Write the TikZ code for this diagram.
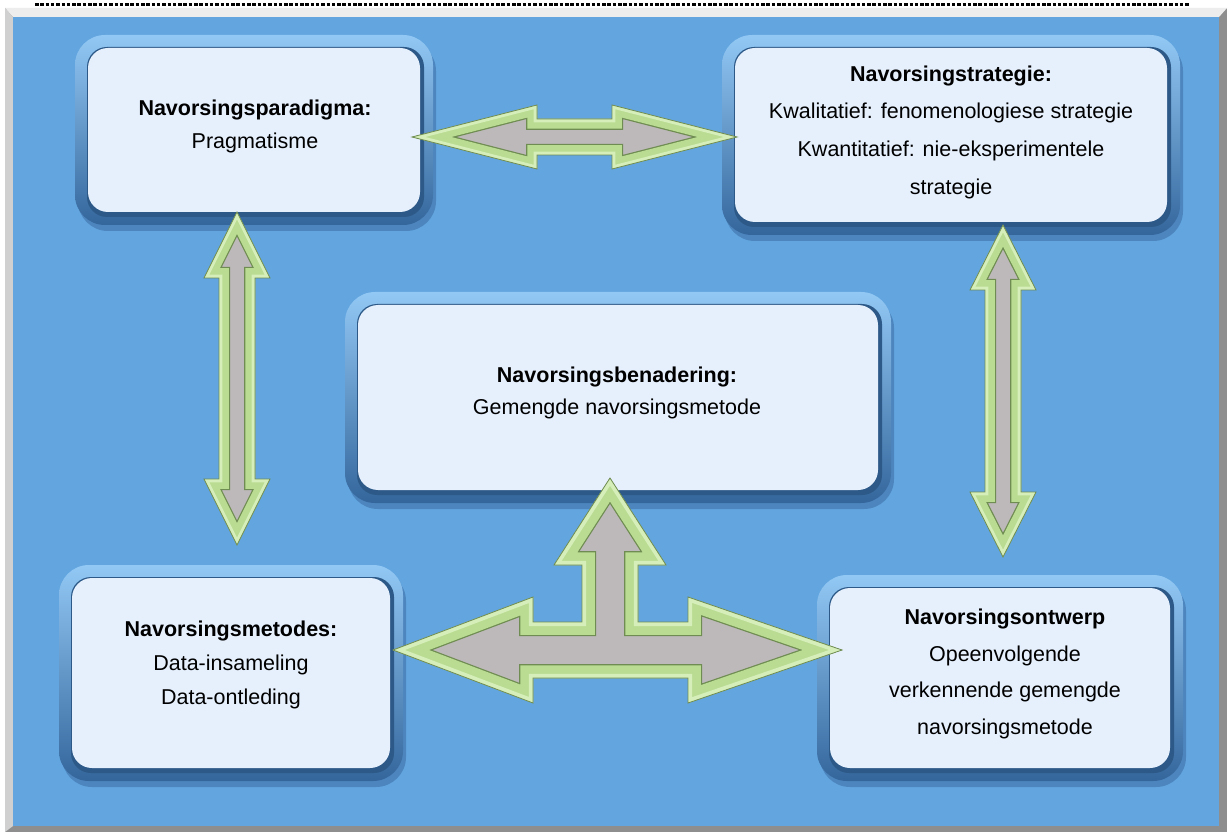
\documentclass[tikz,border=0pt]{standalone}
\usepackage{fontspec}
\setmainfont{Liberation Sans}
\usetikzlibrary{calc}

\definecolor{bgblue}{HTML}{62A5DF}
\definecolor{panelfill}{HTML}{E6F0FD}
\definecolor{rimtop}{HTML}{92C8F4}
\definecolor{rimmid}{HTML}{5E9EDB}
\definecolor{rimbot}{HTML}{34669C}
\definecolor{rimdark}{HTML}{2C5987}
\definecolor{panelshadow}{HTML}{3F70A8}
\definecolor{arrgray}{HTML}{BDB8B9}
\definecolor{arrlight}{HTML}{B9DC92}
\definecolor{arrhigh}{HTML}{D6EFBA}
\definecolor{arrdark}{HTML}{6F8C52}
\definecolor{framelight}{HTML}{EDEDED}
\definecolor{frameside}{HTML}{D0D0D0}
\definecolor{framedark}{HTML}{8E8E8E}

\tikzset{
  txt/.style={font=\fontsize{21.5}{#1}\selectfont, align=center, inner sep=0pt, text=black},
}

% rounded panel: inner rectangle x1,y1,x2,y2 with a bevelled blue rim
\newcommand\panel[4]{%
  \fill[panelshadow, opacity=0.6, rounded corners=30] (#1-13+3,#2-13+6) rectangle (#3+13+3,#4+13+6);
  \shade[rounded corners=30, top color=rimtop, middle color=rimmid, bottom color=rimbot]
    (#1-13,#2-13) rectangle (#3+13,#4+13);
  \fill[rimdark, rounded corners=20] (#1-1,#2-1) rectangle (#3+4,#4+5);
  \fill[panelfill, rounded corners=20] (#1,#2) rectangle (#3,#4);
}

% bevelled block arrow from a closed outline, band width #2
\newcommand\bevelshape[2]{%
  \begin{scope}
    \clip #1;
    \fill[arrgray] #1;
    \draw[arrdark, line width=2*#2, line join=miter] #1;
    \draw[arrlight, line width=2*#2-2.5, line join=miter] #1;
    \draw[arrhigh, line width=#2*0.6, line join=miter] #1;
  \end{scope}
  \draw[arrdark, line width=0.8, line join=miter] #1;
}

% double block arrow between two tips: head length, head half width, shaft half width
\newcommand\dblarrow[5]{%
  \bevelshape{(#1) -- ($(#1)!#3!(#2)!#4!90:(#2)$) -- ($(#1)!#3!(#2)!#5!90:(#2)$)
    -- ($(#2)!#3!(#1)!#5!-90:(#1)$) -- ($(#2)!#3!(#1)!#4!-90:(#1)$) -- (#2)
    -- ($(#2)!#3!(#1)!#4!90:(#1)$) -- ($(#2)!#3!(#1)!#5!90:(#1)$)
    -- ($(#1)!#3!(#2)!#5!-90:(#2)$) -- ($(#1)!#3!(#2)!#4!-90:(#2)$) -- cycle}{11}%
}

\begin{document}
\begin{tikzpicture}[x=1pt, y=-1pt]
  \useasboundingbox (0,0) rectangle (1229,834);
  \fill[white] (0,0) rectangle (1229,834);

  % dashed rule above the frame
  \draw[black, line width=3, dash pattern=on 3.5 off 1.8] (35,5) -- (1190,5);

  % bevelled frame
  \fill[framedark] (5,8) rectangle (1227,832);
  \fill[framelight] (5,8) -- (1227,8) -- (1219,17) -- (13,17) -- cycle;
  \fill[frameside] (5,8) -- (13,17) -- (13,826) -- (5,832) -- cycle;
  \fill[bgblue] (13,17) rectangle (1219,826);

  % panels
  \panel{88}{48}{420}{212}
  \panel{735}{48}{1167}{222}
  \panel{358}{305}{878}{490}
  \panel{72}{578}{390}{768}
  \panel{830}{588}{1170}{768}

  % panel texts
  \node[txt=33] (paradigm) at (255,126) {\textbf{Navorsingsparadigma:}\\Pragmatisme};
  \node[txt=37.7] (strategy) at (951,132) {\textbf{Navorsingstrategie:}\\Kwalitatief: fenomenologiese strategie\\Kwantitatief: nie-eksperimentele\\strategie};
  \node[txt=32] (approach) at (617,393) {\textbf{Navorsingsbenadering:}\\Gemengde navorsingsmetode};
  \node[txt=34] (methods) at (231,665) {\textbf{Navorsingsmetodes:}\\Data-insameling\\Data-ontleding};
  \node[txt=36.7] (design) at (1005,674) {\textbf{Navorsingsontwerp}\\Opeenvolgende\\verkennende gemengde\\navorsingsmetode};

  % arrow tips
  \coordinate (pdR) at (412,137);
  \coordinate (stL) at (737,137);
  \coordinate (pdB) at (237,212);
  \coordinate (meT) at (237,545);
  \coordinate (stB) at (1003,225);
  \coordinate (deT) at (1003,557);
  \coordinate (tipL) at (393,650);
  \coordinate (tipR) at (842,650);
  \coordinate (tipU) at (610,478);

  % double arrows between panels
  \dblarrow{pdR}{stL}{125pt}{32pt}{18pt}
  \dblarrow{pdB}{meT}{66pt}{33pt}{18pt}
  \dblarrow{stB}{deT}{65pt}{33pt}{18pt}

  % three-way arrow
  \begin{scope}[shift={(610,650)}]
    \bevelshape{(tipL) -- (-77,-53) -- (-77,-28) -- (-28,-28) -- (-28,-85) -- (-56,-85)
      -- (tipU) -- (56,-85) -- (28,-85) -- (28,-28) -- (78,-28) -- (78,-53)
      -- (tipR) -- (78,53) -- (78,28) -- (-77,28) -- (-77,53) -- cycle}{14}
  \end{scope}
\end{tikzpicture}
\end{document}
